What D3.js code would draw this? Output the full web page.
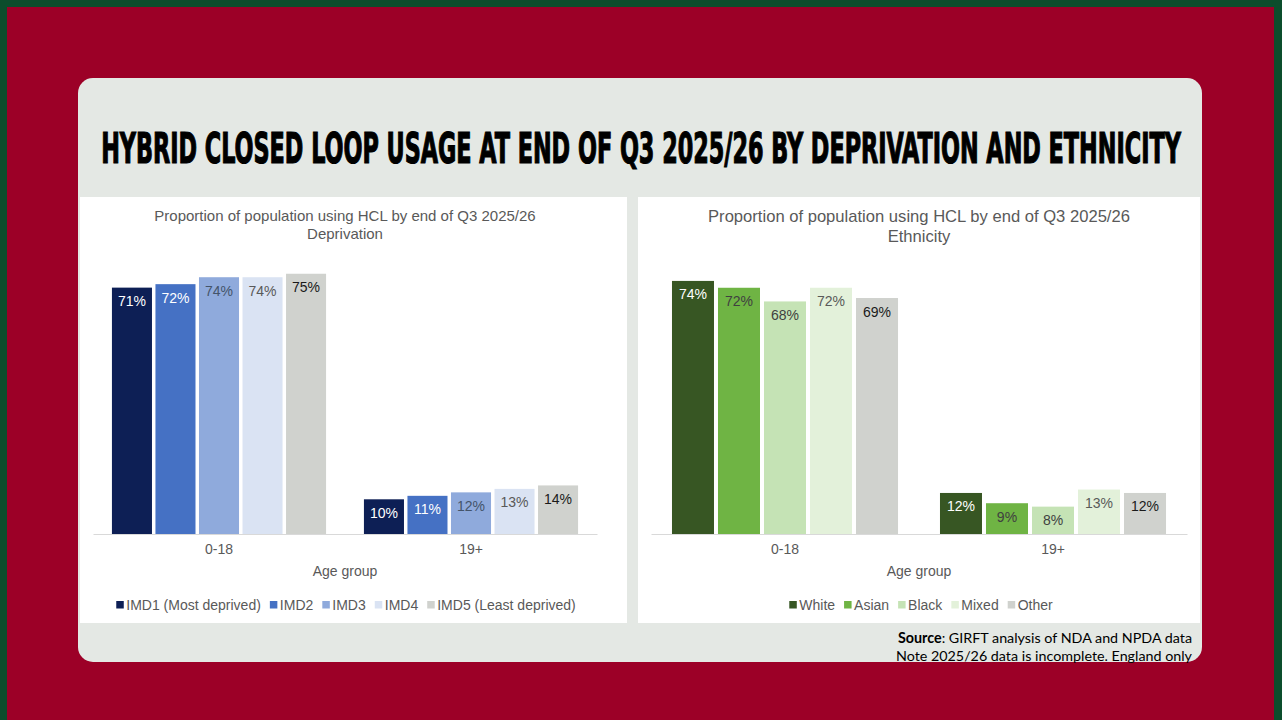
<!DOCTYPE html>
<html>
<head>
<meta charset="utf-8">
<script src="https://cdn.jsdelivr.net/npm/d3@7"></script>
<style>
  html, body { margin: 0; padding: 0; background: #0c4d2c; }
  svg { display: block; }
</style>
</head>
<body>
<svg id="slide" width="1282" height="720"></svg>
<script>
// ========= DATA =========
const ageGroups = ["0-18", "19+"];

const imdSeries = ["IMD1 (Most deprived)", "IMD2", "IMD3", "IMD4", "IMD5 (Least deprived)"];
// valores por serie: [0-18, 19+]
const imdValues = [[71, 10], [72, 11], [74, 12], [74, 13], [75, 14]];
const imdColors = ["#0d1f55", "#4571c4", "#8faadc", "#dae3f3", "#d0d2ce"];
const imdLabelColors = ["#ffffff", "#ffffff", "#44546a", "#595959", "#1a1a1a"];

const ethSeries = ["White", "Asian", "Black", "Mixed", "Other"];
const ethValues = [[74, 12], [72, 9], [68, 8], [72, 13], [69, 12]];
const ethColors = ["#375623", "#6fb444", "#c5e3b5", "#e3f1da", "#d0d2ce"];
const ethLabelColors = ["#ffffff", "#404040", "#404040", "#595959", "#1a1a1a"];

const chartTitle = "Proportion of population using HCL by end of Q3 2025/26";
const mainTitle = "HYBRID CLOSED LOOP USAGE AT END OF Q3 2025/26 BY DEPRIVATION AND ETHNICITY";

const FONT = "'Liberation Sans', Arial, sans-serif";

// ========= SLIDE =========
const svg = d3.select("#slide");

// fondo rojo
svg.append("rect")
  .attr("x", 7).attr("y", 7)
  .attr("width", 1267).attr("height", 720)
  .attr("fill", "#9c0027");

// panel gris
svg.append("rect")
  .attr("x", 78).attr("y", 78)
  .attr("width", 1124).attr("height", 584)
  .attr("rx", 15)
  .attr("fill", "#e4e8e4");

// título principal, comprimido a lo ancho
const mt = svg.append("text")
  .attr("text-anchor", "middle")
  .attr("font-family", "'Liberation Sans Narrow', 'DejaVu Sans Condensed', sans-serif")
  .attr("font-weight", "bold")
  .attr("font-size", 42)
  .attr("fill", "#000")
  .attr("stroke", "#000")
  .attr("stroke-width", 1.2)
  .text(mainTitle);
const mtW = mt.node().getComputedTextLength();
mt.attr("transform", `translate(641,163) scale(${1080 / mtW},1)`);

// ========= CHART =========
function drawChart(cfg){
  const g = svg.append("g");

  g.append("rect")
    .attr("x", cfg.panel[0]).attr("y", cfg.panel[1])
    .attr("width", cfg.panel[2]).attr("height", cfg.panel[3])
    .attr("fill", "#ffffff");

  const x0 = d3.scaleBand()
    .domain(ageGroups)
    .range([cfg.left, cfg.right])
    .padding(0);

  const x1 = d3.scaleBand()
    .domain(cfg.series)
    .range([0, x0.bandwidth()])
    .paddingInner(cfg.padIn)
    .paddingOuter(cfg.padOut);

  const y = d3.scaleLinear()
    .domain([0, 80])
    .range([cfg.base, cfg.base - 80 * cfg.pxPer]);

  // barras
  const groups = g.selectAll("g.grp")
    .data(ageGroups)
    .join("g")
    .attr("class", "grp")
    .attr("transform", d => `translate(${x0(d)},0)`);

  groups.selectAll("rect")
    .data((d, gi) => cfg.series.map((s, si) => ({ s, si, v: cfg.values[si][gi] })))
    .join("rect")
    .attr("x", d => x1(d.s))
    .attr("y", d => y(d.v))
    .attr("width", x1.bandwidth())
    .attr("height", d => y(0) - y(d.v))
    .attr("fill", d => cfg.colors[d.si]);

  groups.selectAll("text")
    .data((d, gi) => cfg.series.map((s, si) => ({ s, si, v: cfg.values[si][gi] })))
    .join("text")
    .attr("x", d => x1(d.s) + x1.bandwidth() / 2)
    .attr("y", d => y(d.v) + 18.5)
    .attr("text-anchor", "middle")
    .attr("font-family", FONT)
    .attr("font-size", 14)
    .attr("fill", d => cfg.labelColors[d.si])
    .text(d => `${d.v}%`);

  // eje
  const axis = g.append("g")
    .attr("transform", `translate(0,${cfg.base})`)
    .call(d3.axisBottom(x0).tickSize(0).tickPadding(10));
  axis.select(".domain").attr("stroke", "#d9d9d9").attr("stroke-width", 1.2);
  axis.selectAll("text")
    .attr("font-family", FONT)
    .attr("font-size", 14)
    .attr("fill", "#595959");

  const cx = (cfg.left + cfg.right) / 2;

  g.append("text")
    .attr("x", cx).attr("y", cfg.base + 42)
    .attr("text-anchor", "middle")
    .attr("font-family", FONT)
    .attr("font-size", 14)
    .attr("fill", "#595959")
    .text("Age group");

  // título
  const t = g.append("text")
    .attr("x", cfg.titleX).attr("y", cfg.titleY)
    .attr("text-anchor", "middle")
    .attr("font-family", FONT)
    .attr("font-size", cfg.titleSize)
    .attr("fill", "#595959");
  t.append("tspan").attr("x", cfg.titleX).text(chartTitle);
  t.append("tspan").attr("x", cfg.titleX).attr("dy", cfg.titleSize * 1.2).text(cfg.subtitle);

  // leyenda
  const leg = g.append("g");
  let off = 0;
  cfg.series.forEach((s, i) => {
    const it = leg.append("g").attr("transform", `translate(${off},0)`);
    it.append("rect")
      .attr("x", 0).attr("y", -9)
      .attr("width", 7.5).attr("height", 7.5)
      .attr("fill", cfg.colors[i]);
    const tx = it.append("text")
      .attr("x", 10).attr("y", 0)
      .attr("font-family", FONT)
      .attr("font-size", 14)
      .attr("fill", "#595959")
      .text(s);
    off += 10 + tx.node().getComputedTextLength() + 9;
  });
  off -= 9;
  leg.attr("transform", `translate(${cfg.legendX - off / 2},${cfg.legendY})`);
}

drawChart({
  panel: [80, 197, 547, 426],
  left: 93, right: 597, base: 534, pxPer: 3.47,
  padIn: 0.08, padOut: 0.435,
  series: imdSeries, values: imdValues, colors: imdColors, labelColors: imdLabelColors,
  subtitle: "Deprivation", titleX: 345, titleY: 221, titleSize: 15,
  legendX: 346, legendY: 610
});

drawChart({
  panel: [638, 197, 562, 426],
  left: 651, right: 1187, base: 534, pxPer: 3.42,
  padIn: 0.087, padOut: 0.456,
  series: ethSeries, values: ethValues, colors: ethColors, labelColors: ethLabelColors,
  subtitle: "Ethnicity", titleX: 919, titleY: 222, titleSize: 16.6,
  legendX: 921, legendY: 610
});

// ========= FUENTE =========
const src = svg.append("text")
  .attr("x", 1192).attr("y", 643)
  .attr("text-anchor", "end")
  .attr("font-family", "Lato, 'Open Sans', sans-serif")
  .attr("font-size", 14.3)
  .attr("fill", "#000");
src.append("tspan").attr("font-weight", "bold").text("Source");
src.append("tspan").text(": GIRFT analysis of NDA and NPDA data");

svg.append("text")
  .attr("x", 1192).attr("y", 661)
  .attr("text-anchor", "end")
  .attr("font-family", "Lato, 'Open Sans', sans-serif")
  .attr("font-size", 14.3)
  .attr("fill", "#000")
  .text("Note 2025/26 data is incomplete. England only");
</script>
</body>
</html>
